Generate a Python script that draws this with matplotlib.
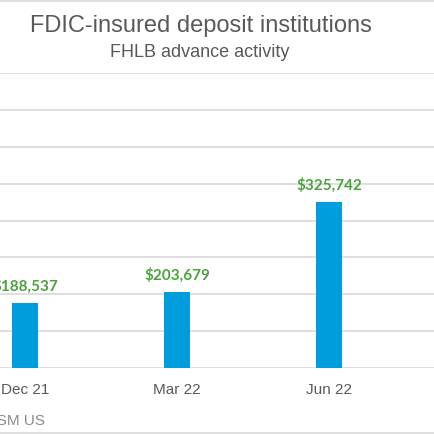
import matplotlib
matplotlib.use("Agg")
import matplotlib.pyplot as plt
from matplotlib.lines import Line2D

# FHLB advance activity, $ thousands
quarters = ["Dec 21", "Mar 22", "Jun 22"]
advances = [188537, 203679, 325742]
value_labels = ["$188,537", "$203,679", "$325,742"]

bar_blue = "#009ddc"
label_green = "#4aa23c"
grid_grey = "#d9d9d9"
text_grey = "#595959"

plt.rcParams["font.family"] = ["Liberation Sans", "DejaVu Sans"]

fig = plt.figure(figsize=(4.35, 4.35), dpi=100)
fig.patch.set_facecolor("white")

# plot area: baseline at px 369, top grid at px 74 (image is a crop of a wider chart)
ax = fig.add_axes([0, (435 - 369) / 435, 1, (369 - 74) / 435])
ax.set_axisbelow(True)
x = list(range(len(quarters)))
ax.bar(x, advances, width=0.167, color=bar_blue, linewidth=0)

for i, (v, lab) in enumerate(zip(advances, value_labels)):
    ax.annotate(lab, (i, v), xytext=(0, 9), textcoords="offset points",
                ha="center", va="baseline", color=label_green,
                fontsize=11, fontweight="bold", family=["Lato", "DejaVu Sans"])

ax.set_xlim(-25 / 152, (435 - 25) / 152)
ax.set_ylim(100000, 500000)
ax.set_yticks(range(100000, 500001, 50000))
ax.yaxis.grid(True, color=grid_grey, linewidth=1.2)
ax.set_yticklabels([])
ax.tick_params(axis="y", length=0)
ax.set_xticks(x)
ax.set_xticklabels(quarters, fontsize=11, color=text_grey)
ax.tick_params(axis="x", length=0, pad=10)
for s in ax.spines.values():
    s.set_visible(False)

fig.text(201 / 435, 1 - 32 / 435, "FDIC-insured deposit institutions",
         ha="center", va="baseline", fontsize=17, color=text_grey)
fig.text(200 / 435, 1 - 57 / 435, "FHLB advance activity",
         ha="center", va="baseline", fontsize=13, color=text_grey)
fig.text(45 / 435, 10 / 435, "Source: RSM US", ha="right", va="baseline",
         fontsize=11, color="#8c8c8c")

# chart border lines at top and bottom of the crop
fig.add_artist(Line2D([0, 1], [1 - 1.5 / 435] * 2, color=grid_grey, linewidth=1.2))
fig.add_artist(Line2D([0, 1], [1.5 / 435] * 2, color=grid_grey, linewidth=1.2))

fig.savefig("out.png", dpi=100, facecolor="white")
